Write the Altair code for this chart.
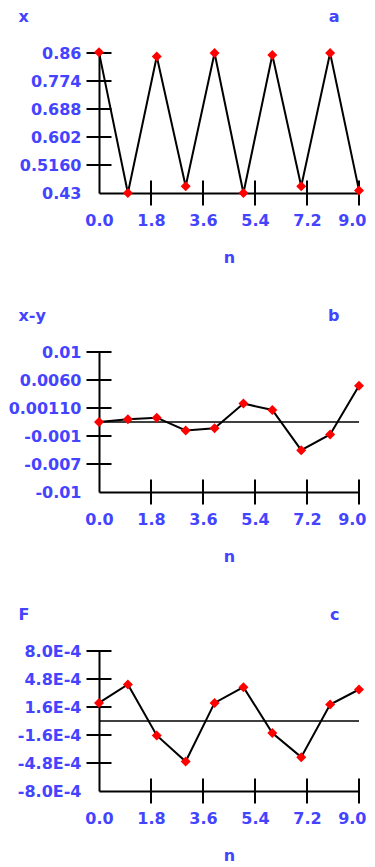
import altair as alt
import pandas as pd

# ---- data ----
n = list(range(10))
x_vals = [0.862, 0.43, 0.849, 0.451, 0.86, 0.43, 0.854, 0.451, 0.86, 0.438]
xy_vals = [0.0, 0.00038, 0.00062, -0.0012, -0.00091, 0.00263, 0.00172, -0.00402, -0.00177, 0.00517]
f_vals = [2.07e-4, 4.17e-4, -1.65e-4, -4.63e-4, 2.07e-4, 3.87e-4, -1.38e-4, -4.13e-4, 1.88e-4, 3.6e-4]

x_ticks = [0.0, 1.8, 3.6, 5.4, 7.2, 9.0]
x_tick_marks = [1.8, 3.6, 5.4, 7.2, 9.0]

a_ticks = [0.43, 0.516, 0.602, 0.688, 0.774, 0.86]
a_labels = ["0.43", "0.5160", "0.602", "0.688", "0.774", "0.86"]
b_ticks = [-0.01, -0.006, -0.002, 0.002, 0.006, 0.01]
b_labels = ["-0.01", "-0.007", "-0.001", "0.00110", "0.0060", "0.01"]
c_ticks = [-8e-4, -4.8e-4, -1.6e-4, 1.6e-4, 4.8e-4, 8e-4]
c_labels = ["-8.0E-4", "-4.8E-4", "-1.6E-4", "1.6E-4", "4.8E-4", "8.0E-4"]

panel_names = ["x", "x-y", "F"]
panel_letters = ["a", "b", "c"]

BLUE = "#4444ff"
FONT = "DejaVu Sans"
FS = 16
FW = "bold"


def label_expr(vals, labels):
    expr = "''"
    for v, l in zip(reversed(vals), reversed(labels)):
        expr = f"abs(datum.value - ({v!r})) < 1e-12 ? '{l}' : ({expr})"
    return expr


def panel(vals, yname, letter, ticks, labels, zero_line):
    df = pd.DataFrame({"n": n, "v": vals})
    lo, hi = ticks[0], ticks[-1]
    xs = alt.Scale(domain=[0, 9], nice=False, zero=False)
    ys = alt.Scale(domain=[lo, hi], nice=False, zero=False)
    xaxis = alt.Axis(
        values=x_ticks, format=".1f", ticks=False, grid=False,
        domainColor="black", domainWidth=2, labelFlush=False,
        labelAlign={"condition": {"test": "datum.value >= 9", "value": "right"}, "value": "center"},
        labelOffset={"condition": {"test": "datum.value >= 9", "value": 7}, "value": 0},
        labelPadding=19, labelColor=BLUE, labelFont=FONT, labelFontSize=FS,
        labelFontWeight=FW,
        title="n", titleColor=BLUE, titleFont=FONT, titleFontSize=FS,
        titleFontWeight=FW, titlePadding=21,
    )
    top_axis = alt.Axis(
        orient="top", labels=False, ticks=False, domain=False, grid=False,
        title=letter, titleColor=BLUE, titleFont=FONT, titleFontSize=FS,
        titleFontWeight=FW, titleX=240, titleY=-37,
        titleAlign="right", titleBaseline="middle",
    )
    yaxis = alt.Axis(
        values=ticks, labelExpr=label_expr(ticks, labels), ticks=False, grid=False,
        domainColor="black", domainWidth=2, labelFlush=False,
        labelPadding=18, labelColor=BLUE, labelFont=FONT, labelFontSize=FS,
        labelFontWeight=FW,
        title=yname, titleColor=BLUE, titleFont=FONT, titleFontSize=FS,
        titleFontWeight=FW, titleAngle=0, titleX=-81, titleY=-37,
        titleAlign="left", titleBaseline="middle",
    )

    def Y(**kw):
        return alt.Y(scale=ys, axis=yaxis, **kw)

    ytk = alt.Chart(pd.DataFrame({"t": ticks[1:]})).mark_tick(
        orient="horizontal", size=25, thickness=2, color="black", opacity=1
    ).encode(
        x=alt.X(datum=0, type="quantitative", scale=xs, axis=None),
        y=Y(field="t", type="quantitative"),
    )
    xtk = alt.Chart(pd.DataFrame({"t": x_tick_marks})).mark_tick(
        orient="vertical", size=25, thickness=2, color="black", opacity=1
    ).encode(
        x=alt.X(field="t", type="quantitative", scale=xs, axis=None),
        y=Y(datum=lo, type="quantitative"),
    )
    layers = [ytk, xtk]
    if zero_line:
        rule = alt.Chart(pd.DataFrame({"z": [0.0]})).mark_rule(
            color="black", strokeWidth=1.5
        ).encode(y=Y(field="z", type="quantitative"))
        layers.append(rule)
    line = alt.Chart(df).mark_line(color="black", strokeWidth=2).encode(
        x=alt.X(field="n", type="quantitative", scale=xs, axis=xaxis),
        y=Y(field="v", type="quantitative"),
    )
    pts = alt.Chart(df).mark_point(
        shape="diamond", filled=True, color="red", size=100, opacity=1
    ).encode(
        x=alt.X(field="n", type="quantitative", scale=xs, axis=top_axis),
        y=Y(field="v", type="quantitative"),
    )
    layers += [line, pts]
    return alt.layer(*layers).resolve_axis(x="independent").properties(
        width=260, height=140
    )


pa = panel(x_vals, panel_names[0], panel_letters[0], a_ticks, a_labels, False)
pb = panel(xy_vals, panel_names[1], panel_letters[1], b_ticks, b_labels, True)
pc = panel(f_vals, panel_names[2], panel_letters[2], c_ticks, c_labels, True)

chart = alt.vconcat(pa, pb, pc, spacing=42).resolve_scale(
    x="independent", y="independent"
).properties(
    padding={"left": 0, "top": 0, "right": 0, "bottom": 0},
    background="white",
).configure_view(stroke="transparent", strokeWidth=0)

chart.save("out.html", embed_options={"renderer": "svg", "actions": False})
